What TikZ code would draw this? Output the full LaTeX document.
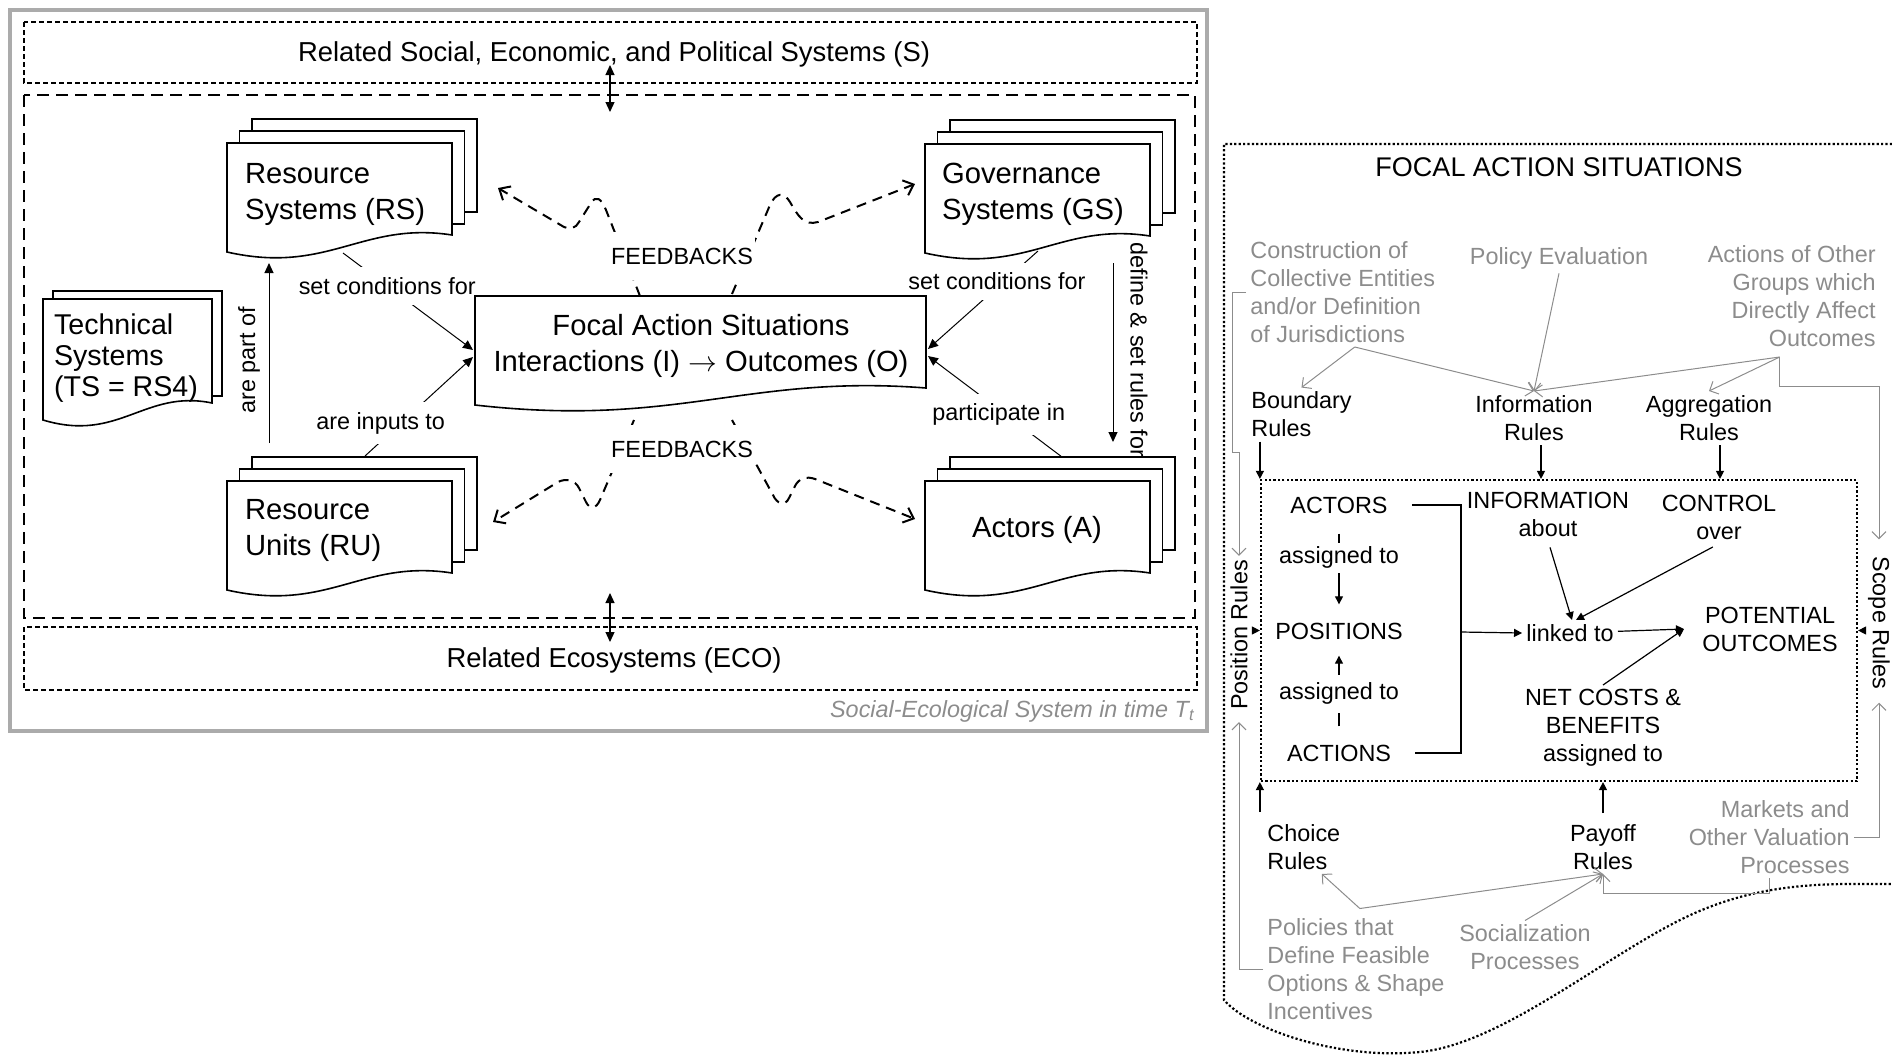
\documentclass[tikz,border=0pt]{standalone}
\usepackage{fontspec}
\setmainfont{Liberation Sans}
\usetikzlibrary{arrows.meta}
\definecolor{frameGray}{HTML}{ABABAB}
\definecolor{noteGray}{HTML}{8C8C8C}
\newcommand{\bigtxt}{\fontsize{14.6}{18}\selectfont}
\newcommand{\midtxt}{\fontsize{13.7}{16}\selectfont}
\newcommand{\headtxt}{\fontsize{13.5}{16}\selectfont}
\newcommand{\smalltxt}{\fontsize{11.7}{14}\selectfont}
% page with a wavy lower edge: left, top, width, height
\newcommand{\docpage}[4]{%
  \draw[page] (#1,#2) -- (#1+#3,#2) -- (#1+#3,#2+#4)
    .. controls (#1+0.6*#3,#2+#4-14) and (#1+0.45*#3,#2+#4+40) .. (#1,#2+#4+17) -- cycle;}
% three pages on top of each other
\newcommand{\docstack}[2]{%
  \draw[page] (#1+25,#2-24) rectangle ++(225,93);
  \draw[page] (#1+12.5,#2-12) rectangle ++(225,93);
  \docpage{#1}{#2}{225}{92}}

\begin{document}
\begin{tikzpicture}[x=0.5pt,y=-0.5pt,
  page/.style={draw, fill=white, line width=0.8pt},
  lbl/.style={font=\smalltxt, inner sep=2pt},
  cover/.style={lbl, fill=white, inner xsep=1pt, inner ysep=5pt},
  note/.style={lbl, text=noteGray},
  conn/.style={line width=0.5pt, -{Triangle[length=5pt,width=4.5pt]}},
  blk/.style={line width=0.6pt, -{Triangle[length=4pt,width=4pt]}},
  garr/.style={draw=noteGray, line width=0.5pt, -{Straight Barb[length=3.5pt,width=7pt]}},
  fb/.style={line width=1pt, dash pattern=on 5pt off 3.5pt, -{Straight Barb[length=4.5pt,width=8pt]}},
  twoway/.style={line width=0.6pt, {Triangle[length=5pt,width=4.5pt]}-{Triangle[length=5pt,width=4.5pt]}},
  finedash/.style={line width=0.9pt, dash pattern=on 2.5pt off 1.5pt},
  longdash/.style={line width=1pt, dash pattern=on 6pt off 3.5pt},
  dotline/.style={line width=1.1pt, dash pattern=on 1.1pt off 1.1pt}
]
\useasboundingbox (0,0) rectangle (1892,1056);

% ---- social-ecological system ----
\draw[frameGray, line width=1.6pt] (10,10) rectangle (1207,731);
\draw[finedash] (24,22) rectangle (1197,83);
\draw[longdash] (24,95) rectangle (1195,618);
\draw[finedash] (24,627) rectangle (1197,690);
\node[font=\midtxt] (sys) at (614,54) {Related Social, Economic, and Political Systems (S)};
\node[font=\midtxt] (eco) at (614,660) {Related Ecosystems (ECO)};
\node[lbl, font=\smalltxt\itshape, text=noteGray, anchor=east] (sestime) at (1199,711) {Social-Ecological System in time T\textsubscript{t}};

\coordinate (s-up) at (610,65);
\coordinate (s-dn) at (610,112);
\coordinate (e-up) at (610,593);
\coordinate (e-dn) at (610,642);
\draw[twoway] (s-up) -- (s-dn);
\draw[twoway] (e-up) -- (e-dn);

\coordinate (rs-out) at (343,253);
\coordinate (ru-out) at (365,456);
\coordinate (gs-out) at (1038,251);
\coordinate (a-out) at (1062,457);
\coordinate (fas-w1) at (473,350);
\coordinate (fas-w2) at (473,357);
\coordinate (fas-e1) at (928,349);
\coordinate (fas-e2) at (928,356);
\coordinate (ru-top) at (269,443);
\coordinate (rs-bot) at (269,263);
\coordinate (gs-bot) at (1113,263);
\coordinate (a-top) at (1113,442);

\draw[conn] (rs-out) -- node[cover, pos=0.34] (scl) {set conditions for} (fas-w1);
\draw[conn] (ru-out) -- node[cover, pos=0.33, xshift=-10pt] (ait) {are inputs to} (fas-w2);
\draw[conn] (gs-out) -- node[cover, pos=0.31, xshift=-3.5pt] (scr) {set conditions for} (fas-e1);
\draw[conn] (a-out) -- node[cover, pos=0.42, xshift=-3.5pt] (pin) {participate in} (fas-e2);
\draw[conn] (ru-top) -- (rs-bot);
\node[lbl, rotate=90] (apo) at (249,360) {are part of};
\draw[conn] (gs-bot) -- (a-top);
\node[lbl, rotate=-90] (dsr) at (1139,350) {define \& set rules for};

% feedbacks
\draw[fb] (640,296) -- (606,210) .. controls (601,198) and (596,195) .. (591,203)
  -- (579,222) .. controls (576,228) and (570,230) .. (564,227) -- (498,188);
\draw[fb] (732,294) -- (770,205) .. controls (776,192) and (784,192) .. (790,202)
  .. controls (798,216) and (804,226) .. (818,222) -- (915,184);
\draw[fb] (634,420) -- (600,500) .. controls (596,509) and (590,510) .. (586,502)
  -- (579,488) .. controls (575,480) and (566,478) .. (558,482) -- (493,522);
\draw[fb] (732,420) -- (773,495) .. controls (777,504) and (785,507) .. (789,498)
  -- (795,486) .. controls (799,478) and (807,476) .. (815,479) -- (915,519);
\node[cover, font=\smalltxt, inner ysep=8pt] (fbtop) at (682,256) {FEEDBACKS};
\node[cover, font=\smalltxt, inner ysep=8pt] (fbbot) at (682,449) {FEEDBACKS};

% pages
\docstack{227}{143}
\docstack{925}{144}
\docstack{227}{481}
\docstack{925}{481}
\draw[page] (53,291) rectangle ++(169,105);
\docpage{43}{299}{169}{104}
\docpage{475}{296}{451}{92}

\node[font=\bigtxt, align=left, anchor=west] (rs) at (238,194) {Resource\\Systems (RS)};
\node[font=\bigtxt, align=left, anchor=west] (gs) at (935,194) {Governance\\Systems (GS)};
\node[font=\bigtxt, align=left, anchor=west] (ru) at (238,530) {Resource\\Units (RU)};
\node[font=\bigtxt] (act) at (1037,530) {Actors (A)};
\node[font={\fontsize{14.3}{15.5}\selectfont}, align=left, anchor=west] (ts) at (47,358) {Technical\\Systems\\(TS = RS4)};
\node[font=\bigtxt, align=center] (fas) at (701,346) {Focal Action Situations\\Interactions (I) $\rightarrow$ Outcomes (O)};

% ---- focal action situations ----
\draw[dotline] (1892,144) -- (1224,144) -- (1224,1000)
  .. controls (1250,1030) and (1340,1060) .. (1420,1052)
  .. controls (1500,1044) and (1600,960) .. (1680,920)
  .. controls (1760,880) and (1830,884) .. (1892,884);
\node[draw, dotline, minimum width=298pt, minimum height=150.5pt] (inner) at (1559,630.5) {};

\node[font=\headtxt] (title) at (1559,167) {FOCAL ACTION SITUATIONS};
\node[note, align=left, anchor=west] (constr) at (1246,292) {Construction of\\Collective Entities\\and/or Definition\\of Jurisdictions};
\node[note] (poleval) at (1559,258) {Policy Evaluation};
\node[note, align=right, anchor=east] (othergrp) at (1880,296) {Actions of Other\\Groups which\\Directly Affect\\Outcomes};
\node[lbl, align=left, anchor=west] (bnd) at (1247,414.5) {Boundary\\Rules};
\node[lbl, align=center] (inforule) at (1534,418) {Information\\Rules};
\node[lbl, align=center] (aggrule) at (1709,418) {Aggregation\\Rules};

\node[lbl] (actors) at (1339,505) {ACTORS};
\node[lbl] (positions) at (1339,631) {POSITIONS};
\node[lbl] (actions) at (1339,753) {ACTIONS};
\node[lbl, align=center] (info) at (1548,514) {INFORMATION\\about};
\node[lbl, align=center] (ctrl) at (1719,517) {CONTROL\\over};
\node[lbl] (linked) at (1570,633) {linked to};
\node[lbl, align=center] (potout) at (1770,629) {POTENTIAL\\OUTCOMES};
\node[lbl, align=center] (netcost) at (1603,728) {NET COSTS \&\\BENEFITS\\assigned to};

\node[lbl, align=left, anchor=west] (choice) at (1263,847) {Choice\\Rules};
\node[lbl, align=center] (payoff) at (1603,847) {Payoff\\Rules};
\node[note, align=right, anchor=east] (markets) at (1854,837) {Markets and\\Other Valuation\\Processes};
\node[note, align=left, anchor=west] (policies) at (1263,969.5) {Policies that\\Define Feasible\\Options \& Shape\\Incentives};
\node[note, align=center] (social) at (1525,947.5) {Socialization\\Processes};
\node[lbl, rotate=90] (posrules) at (1239,635) {Position Rules};
\node[lbl, rotate=-90] (scoperules) at (1879,623) {Scope Rules};

% rules into the situation
\coordinate (ir) at ([xshift=3.5pt]inforule.south);
\coordinate (ar) at ([xshift=5.5pt]aggrule.south);
\coordinate (cr) at (choice.north -| inner.south west);
\draw[blk] (bnd.south -| inner.north west) -- (inner.north west);
\draw[blk] (ir) -- (ir |- inner.north);
\draw[blk] (ar) -- (ar |- inner.north);
\draw[blk] ([yshift=4pt]cr) -- (inner.south west);
\draw[blk] ([yshift=3.5pt]payoff.north) -- (payoff.north |- inner.south);
\draw[blk] (posrules.south |- inner.west) -- (inner.west);
\draw[blk] (scoperules.south |- inner.east) -- (inner.east);

% inside the situation
\draw[blk, shorten <=8pt, shorten >=7pt] (actors) -- node[cover, inner ysep=2pt, pos=0.4] (asg1) {assigned to} (positions);
\draw[blk, shorten <=7pt, shorten >=6pt] (actions) -- node[cover, inner ysep=4pt, pos=0.48] (asg2) {assigned to} (positions);
\coordinate (brk) at (1461,632);
\draw[line width=0.6pt] ([xshift=10pt]actors.east) -| (brk) |- ([xshift=10pt]actions.east);
\draw[blk] (brk) -- (linked.west);
\draw[blk, shorten <=3.5pt] (info.south) -- ([xshift=1pt]linked.north);
\draw[blk, shorten <=3.5pt] (ctrl.south) -- ([xshift=3pt]linked.north);
\coordinate (po-in) at ([xshift=-7pt]potout.west);
\draw[blk] (linked) -- (po-in);
\draw[blk] (netcost.north) -- (po-in);

% outside influences
\coordinate (cj) at ([xshift=6pt]constr.south);
\coordinate (oj) at ([xshift=-6pt,yshift=-3pt]othergrp.south);
\coordinate (pj) at ([xshift=2pt,yshift=3pt]policies.north);
\draw[garr] (cj) -- (bnd.north);
\draw[garr] (cj) -- (inforule.north);
\draw[garr] (poleval.south) -- (inforule.north);
\draw[garr] (oj) -- (inforule.north);
\draw[garr] (oj) -- (aggrule.north);
\draw[garr] (oj) -- ++(0,29) -| ([yshift=6.5pt]scoperules.west);
\draw[garr] (markets.east) -| ([yshift=-4.5pt]scoperules.east);
\draw[garr] (constr.west) -| (1232,452) -| (posrules.east);
\draw[garr] (policies.west) -| ([yshift=-4pt]posrules.west);
\draw[garr] (pj) -- ([xshift=9pt]choice.south);
\draw[garr] (pj) -- (payoff.south);
\draw[garr] (social.north) -- (payoff.south);
\draw[garr] (markets.south) -- ++(0,15) -| (payoff.south);
\end{tikzpicture}
\end{document}
